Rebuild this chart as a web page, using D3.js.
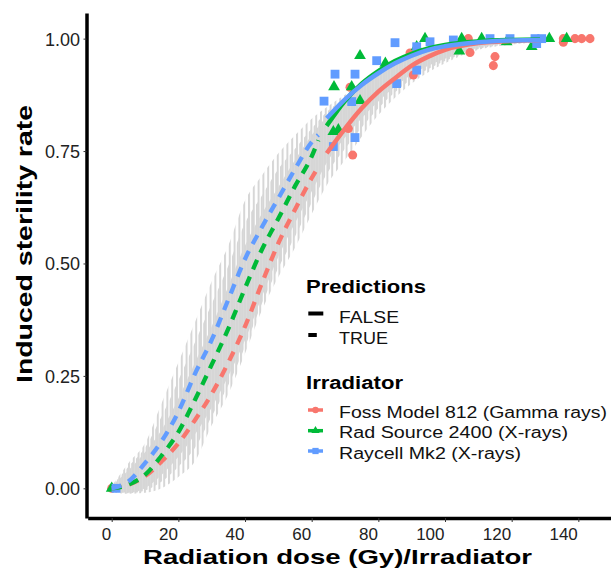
<!DOCTYPE html>
<html>
<head>
<meta charset="utf-8">
<script src="https://cdn.jsdelivr.net/npm/d3@7"></script>
<style>
  body { margin: 0; background: #fff; }
  svg { display: block; font-family: "Liberation Sans", Arial, sans-serif; }
</style>
</head>
<body>
<svg id="chart" width="611" height="569"></svg>
<script>
// ---- data ----
const IRRADIATORS = ['Foss Model 812 (Gamma rays)', 'Rad Source 2400 (X-rays)', 'Raycell Mk2 (X-rays)'];
const COLORS = ['#F8766D', '#00BA38', '#619CFF'];
const PRED_LABELS = ['FALSE', 'TRUE'];
const TICKS_X = [0, 20, 40, 60, 80, 100, 120, 140];
const TICKS_Y = [0, 0.25, 0.5, 0.75, 1];

// predicted (dashed) part
const predDose = [0, 5, 10, 15, 20, 25, 30, 35, 40, 45, 50, 55, 60, 62];
const predFoss = [0, 0.008, 0.027, 0.06, 0.1, 0.152, 0.21, 0.28, 0.36, 0.455, 0.545, 0.62, 0.69, 0.715];
const predRad  = [0, 0.008, 0.03, 0.073, 0.125, 0.197, 0.275, 0.355, 0.445, 0.53, 0.6, 0.672, 0.738, 0.774];
const predRay  = [0, 0.015, 0.056, 0.105, 0.17, 0.255, 0.33, 0.42, 0.51, 0.58, 0.645, 0.71, 0.77, 0.786];

// fitted (solid) part
const fitDose = [64.5, 70, 75, 80, 85, 90, 95, 100, 110, 120, 128.5];
const fitFoss = [0.745, 0.8, 0.845, 0.882, 0.912, 0.94, 0.96, 0.975, 0.99, 0.995, 0.997];
const fitRad  = [0.806, 0.862, 0.9, 0.928, 0.95, 0.966, 0.978, 0.986, 0.994, 0.997, 0.998];
const fitRay  = [0.823, 0.865, 0.897, 0.923, 0.945, 0.962, 0.975, 0.983, 0.992, 0.996, 0.997];

// confidence bands
const bandDose = [0, 5, 10, 15, 20, 25, 30, 35, 40, 45, 50, 55, 60, 65, 70, 80, 90, 100, 110, 120, 128.5];
const loFoss = [-0.008, -0.012, -0.01, 0, 0.025, 0.06, 0.14, 0.21, 0.3, 0.395, 0.47, 0.535, 0.61, 0.68, 0.73, 0.83, 0.9, 0.945, 0.975, 0.987, 0.992];
const hiFoss = [0.005, 0.04, 0.08, 0.13, 0.2, 0.28, 0.36, 0.45, 0.54, 0.61, 0.67, 0.73, 0.785, 0.83, 0.86, 0.92, 0.96, 0.982, 0.99, 0.995, 0.998];
const loRad  = [-0.006, -0.011, -0.005, 0.015, 0.048, 0.09, 0.16, 0.23, 0.315, 0.41, 0.49, 0.56, 0.635, 0.705, 0.755, 0.845, 0.91, 0.95, 0.977, 0.988, 0.993];
const hiRad  = [0.005, 0.048, 0.09, 0.16, 0.24, 0.325, 0.41, 0.495, 0.59, 0.65, 0.71, 0.755, 0.8, 0.84, 0.868, 0.925, 0.962, 0.983, 0.991, 0.996, 0.998];
const loRay  = [-0.005, -0.01, 0, 0.03, 0.07, 0.12, 0.18, 0.25, 0.33, 0.425, 0.515, 0.59, 0.66, 0.73, 0.78, 0.86, 0.92, 0.955, 0.98, 0.99, 0.995];
const hiRay  = [0.005, 0.056, 0.1, 0.19, 0.28, 0.37, 0.46, 0.54, 0.64, 0.695, 0.745, 0.785, 0.822, 0.85, 0.875, 0.93, 0.965, 0.985, 0.993, 0.997, 0.999];

// observed points
const obsDoseFoss = [0, 72.3, 71, 71.5, 90.5, 89.5, 107.5, 115, 114.5, 107, 135.5, 135.5, 139, 141, 143.5];
const obsRateFoss = [0, 0.741, 0.8, 0.892, 0.919, 0.968, 0.969, 0.96, 0.94, 1, 0.992, 1, 1, 1, 1];
const obsDoseRad  = [0, 74.5, 94, 66.7, 72, 74.5, 82.1, 91.5, 105, 111, 104.3, 118.5, 126, 131.3, 136.5, 68, 66.5];
const obsRateRad  = [0, 0.962, 1, 0.893, 0.893, 0.862, 0.945, 0.982, 1, 1, 0.972, 0.993, 0.982, 1, 1, 0.797, 0.793];
const obsDoseRay  = [1.3, 85, 79.5, 67, 73, 63.7, 72, 73, 66.5, 85.5, 91.5, 91.5, 95.5, 102.5, 113.5, 119.5, 127, 129, 127.5];
const obsRateRay  = [0, 0.991, 0.951, 0.921, 0.921, 0.861, 0.86, 0.78, 0.76, 0.9, 0.93, 0.982, 0.993, 0.997, 1, 1, 1, 1, 0.989];

const series = [
  { name: IRRADIATORS[0], color: COLORS[0], shape: d3.symbolCircle,   size: 64, pred: predFoss, fit: fitFoss, lo: loFoss, hi: hiFoss, ox: obsDoseFoss, oy: obsRateFoss },
  { name: IRRADIATORS[1], color: COLORS[1], shape: d3.symbolTriangle, size: 60, pred: predRad,  fit: fitRad,  lo: loRad,  hi: hiRad,  ox: obsDoseRad,  oy: obsRateRad },
  { name: IRRADIATORS[2], color: COLORS[2], shape: d3.symbolSquare,   size: 78, pred: predRay,  fit: fitRay,  lo: loRay,  hi: hiRay,  ox: obsDoseRay,  oy: obsRateRay },
];

// ---- chart ----
const svg = d3.select('#chart');
const x = d3.scaleLinear().domain([-7.2, 151]).range([87.7, 615]);
const y = d3.scaleLinear().domain([-0.066, 1.057]).range([518, 13]);

// hatch patterns for the bands (vertical grey strokes)
const defs = svg.append('defs');
series.forEach((s, i) => {
  const p = defs.append('pattern').attr('id', 'hatch' + i)
    .attr('patternUnits', 'userSpaceOnUse').attr('width', 4.8).attr('height', 20).attr('x', i * 1.6);
  p.append('rect').attr('width', 2).attr('height', 20).attr('fill', '#d6d6d6');
});

const band = d3.area().curve(d3.curveMonotoneX);
series.forEach((s, i) => {
  const pts = bandDose.map((d, k) => [x(d), y(s.lo[k]), y(s.hi[k])]);
  svg.append('path')
    .attr('d', band.x(p => p[0]).y0(p => p[1]).y1(p => p[2])(pts))
    .attr('fill', `url(#hatch${i})`);
});

// points
series.forEach(s => {
  svg.append('g').selectAll('path').data(s.ox.map((d, k) => [d, s.oy[k]])).join('path')
    .attr('transform', d => `translate(${x(d[0])},${y(d[1])})`)
    .attr('d', d3.symbol(s.shape, s.size))
    .attr('fill', s.color);
});

// curves
const line = d3.line().x(d => x(d[0])).y(d => y(d[1])).curve(d3.curveMonotoneX);
series.forEach(s => {
  svg.append('path').attr('d', line(predDose.map((d, k) => [d, s.pred[k]])))
    .attr('fill', 'none').attr('stroke', s.color).attr('stroke-width', 4.3)
    .attr('stroke-dasharray', '10,8');
});
series.forEach(s => {
  svg.append('path').attr('d', line(fitDose.map((d, k) => [d, s.fit[k]])))
    .attr('fill', 'none').attr('stroke', s.color).attr('stroke-width', 4.5);
});

// axes
const gx = svg.append('g').attr('transform', 'translate(0,518)')
  .call(d3.axisBottom(x).tickValues(TICKS_X).tickSize(4).tickSizeOuter(0));
const gy = svg.append('g').attr('transform', 'translate(86.5,0)')
  .call(d3.axisLeft(y).tickValues(TICKS_Y).tickFormat(d3.format('.2f')).tickSize(3).tickSizeOuter(0));
[gx, gy].forEach(g => {
  g.select('.domain').attr('stroke', '#000').attr('stroke-width', 3.5);
  g.selectAll('.tick line').attr('stroke', '#333');
  g.selectAll('.tick text').attr('fill', '#222').attr('font-size', 17)
    .attr('font-family', '"Liberation Sans", Arial, sans-serif');
});
gx.selectAll('.tick text').attr('text-anchor', 'end').attr('x', -1).attr('dy', null).attr('y', 21.5);
gy.selectAll('.tick text').attr('x', -6.5).attr('dy', '0.36em').attr('font-size', 18);

svg.append('text').attr('x', 143).attr('y', 564).attr('font-size', 21).attr('font-weight', 700)
  .attr('textLength', 389).attr('lengthAdjust', 'spacingAndGlyphs')
  .text('Radiation dose (Gy)/Irradiator');
svg.append('text').attr('transform', 'translate(32,383) rotate(-90)')
  .attr('font-size', 22).attr('font-weight', 700)
  .attr('textLength', 278).attr('lengthAdjust', 'spacingAndGlyphs')
  .text('Induced sterility rate');

// legend: predictions
const lg = svg.append('g');
lg.append('text').attr('x', 306).attr('y', 293).attr('font-size', 18).attr('font-weight', 700)
  .attr('textLength', 120).attr('lengthAdjust', 'spacingAndGlyphs').text('Predictions');
const predKeys = [{ y: 313.5, len: 15, w: 60 }, { y: 335, len: 8.5, w: 49 }];
PRED_LABELS.forEach((lab, i) => {
  const k = predKeys[i];
  lg.append('line').attr('x1', 308.3).attr('x2', 308.3 + k.len).attr('y1', k.y).attr('y2', k.y)
    .attr('stroke', '#000').attr('stroke-width', 4);
  lg.append('text').attr('x', 339).attr('y', k.y + 9).attr('font-size', 16)
    .attr('textLength', k.w).attr('lengthAdjust', 'spacingAndGlyphs').attr('fill', '#111').text(lab);
});

// legend: irradiator
lg.append('text').attr('x', 306).attr('y', 389).attr('font-size', 18).attr('font-weight', 700)
  .attr('textLength', 97).attr('lengthAdjust', 'spacingAndGlyphs').text('Irradiator');
const irrKeyY = [410, 430.7, 451];
const irrW = [268, 229, 182];
series.forEach((s, i) => {
  const ky = irrKeyY[i];
  lg.append('line').attr('x1', 308).attr('x2', 323).attr('y1', ky).attr('y2', ky)
    .attr('stroke', s.color).attr('stroke-width', 3.5);
  lg.append('path').attr('transform', `translate(315.5,${ky})`)
    .attr('d', d3.symbol(s.shape, s.size * 0.5)).attr('fill', s.color);
  lg.append('text').attr('x', 339).attr('y', ky + 7.5).attr('font-size', 16)
    .attr('textLength', irrW[i]).attr('lengthAdjust', 'spacingAndGlyphs').attr('fill', '#111').text(s.name);
});
</script>
</body>
</html>
